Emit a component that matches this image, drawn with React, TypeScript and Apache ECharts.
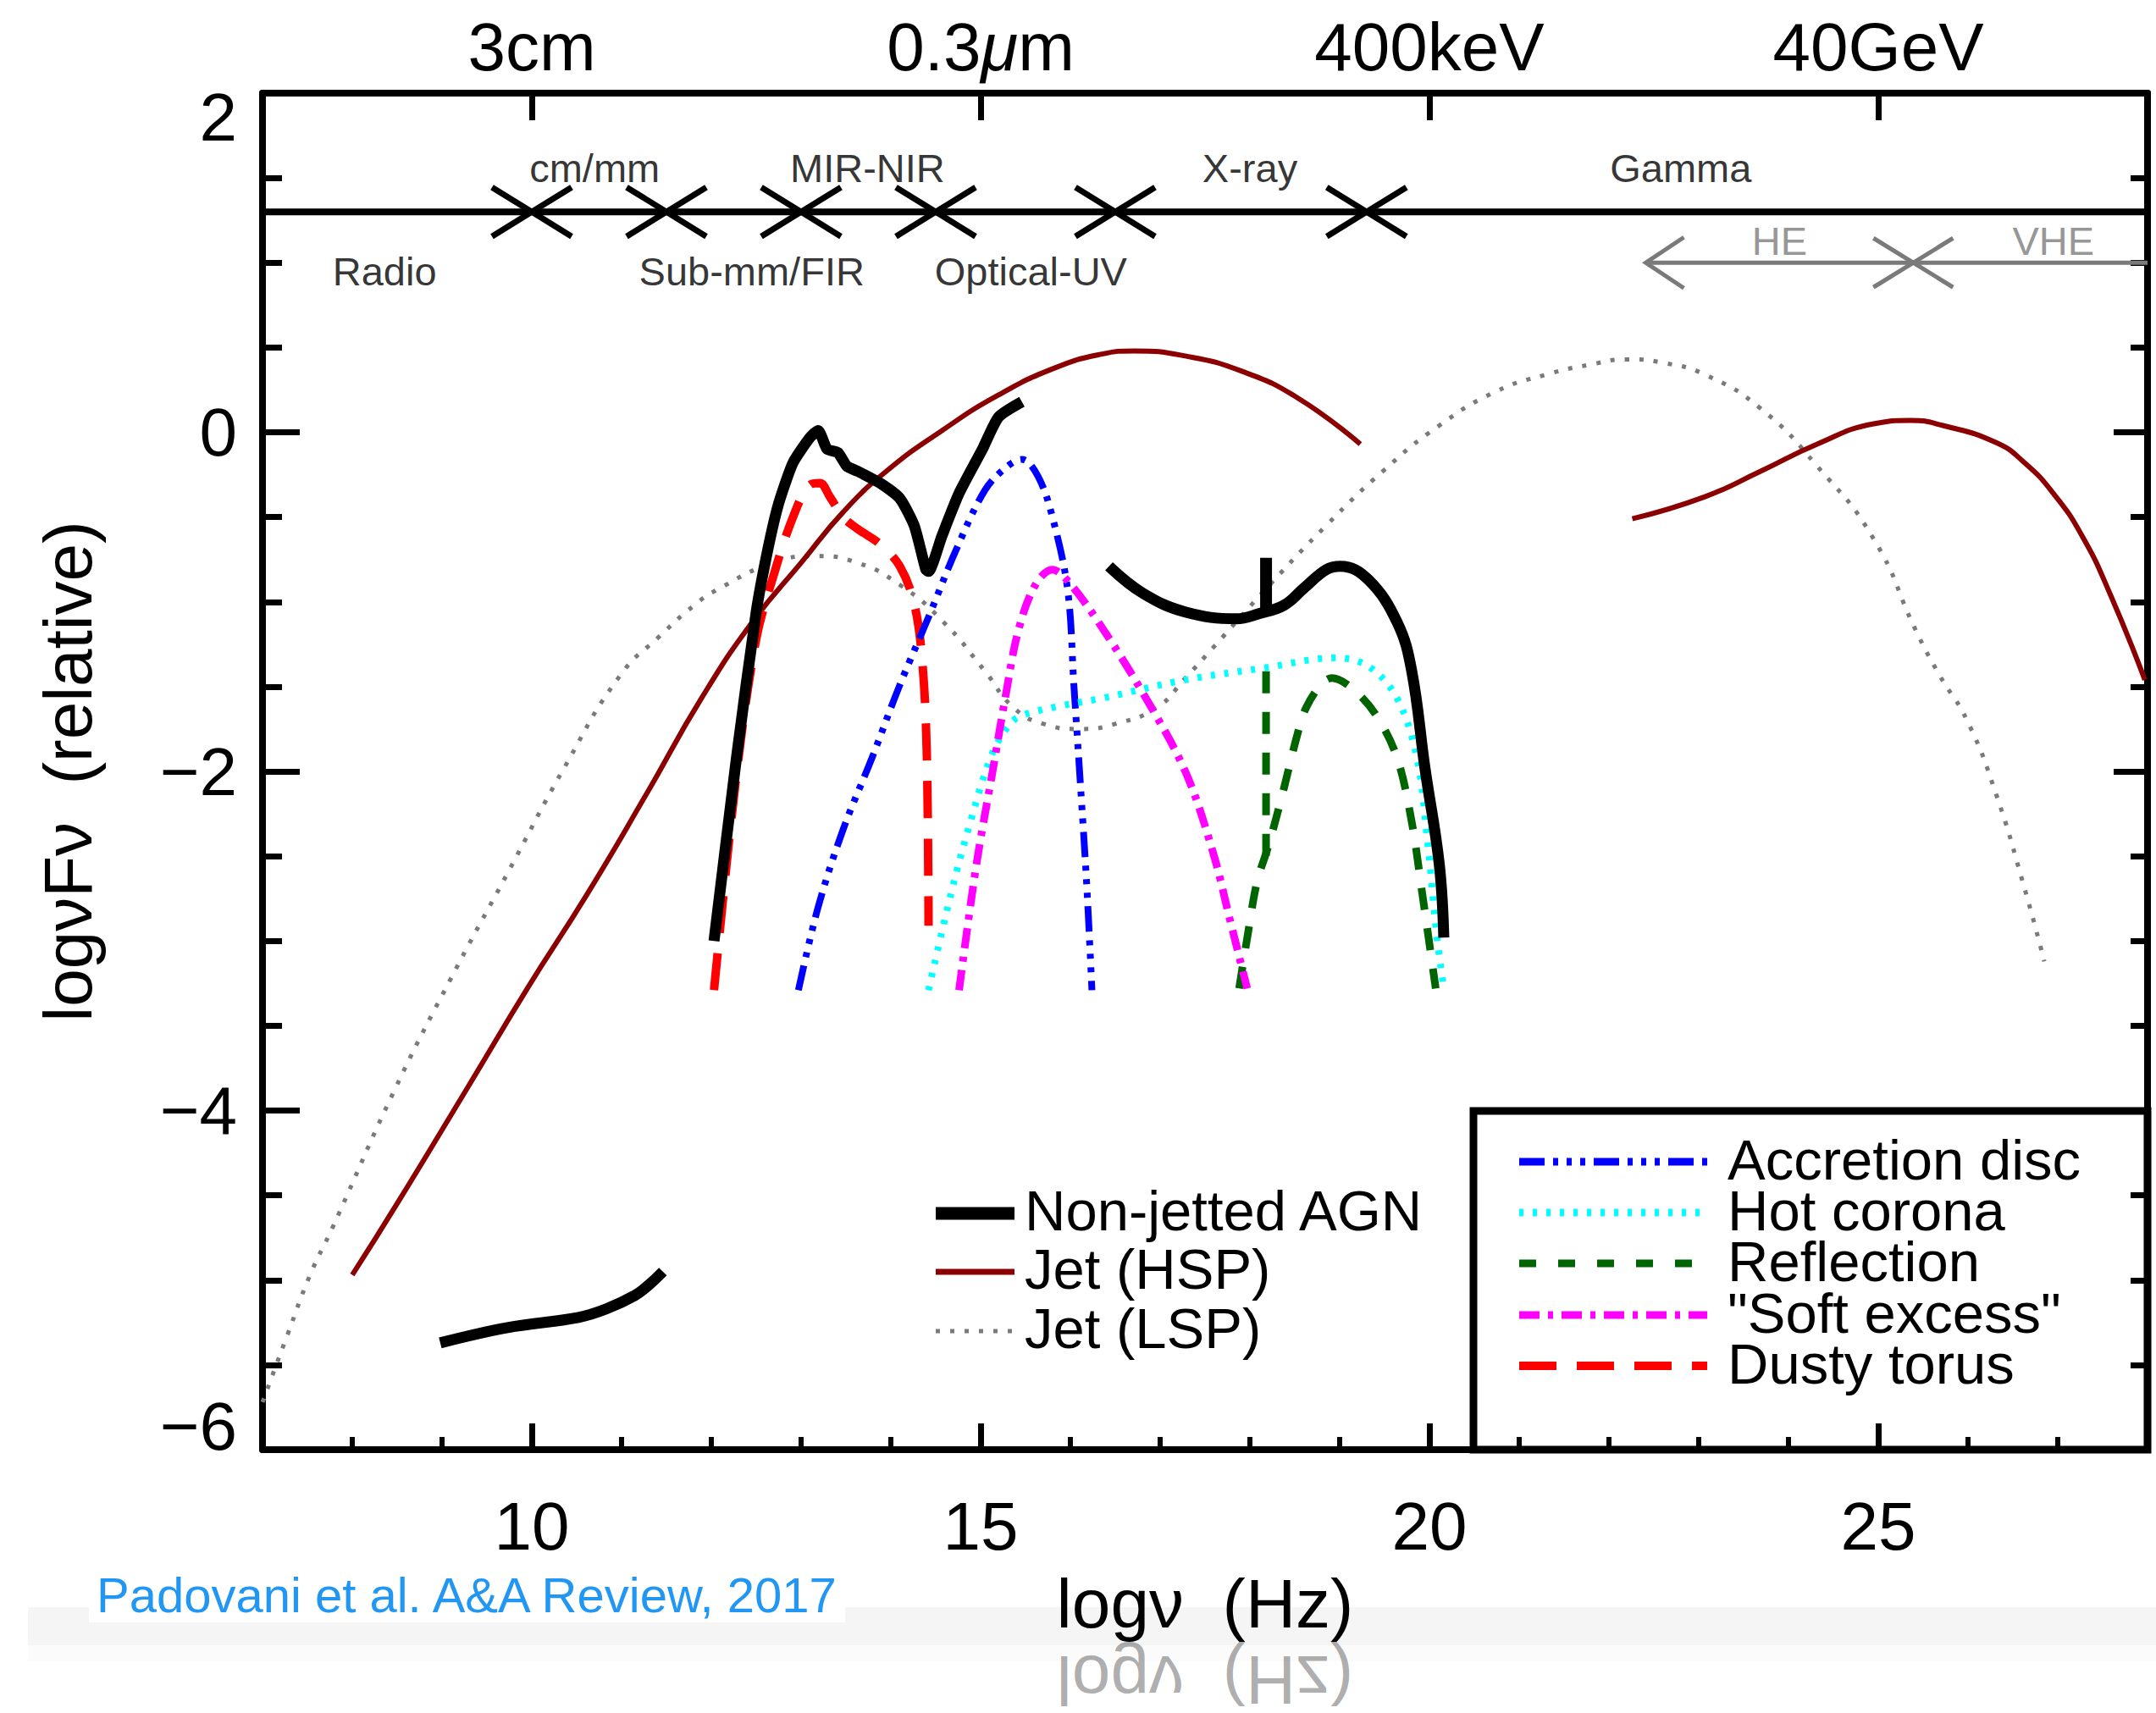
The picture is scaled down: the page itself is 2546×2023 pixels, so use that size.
import React, { useEffect, useRef } from 'react';
import * as echarts from 'echarts';

const FONT = '"Liberation Sans", Arial, Helvetica, sans-serif';

// ---------------- data (log nu [Hz], log nuFnu) ----------------
const nonJettedRadio: number[][] = [
  [8.98, -5.37], [9.73, -5.28], [10.52, -5.22], [10.83, -5.17], [11.15, -5.09], [11.3, -5.03], [11.46, -4.95],
];
const nonJettedIR: number[][] = [
  [12.03, -3.0], [12.28, -1.92], [12.5, -1.06], [12.63, -0.69], [12.75, -0.42], [12.91, -0.18], [13.1, -0.03],
  [13.19, 0.01], [13.29, -0.1], [13.41, -0.12], [13.51, -0.2], [13.63, -0.23], [13.88, -0.3], [14.1, -0.39],
  [14.26, -0.55], [14.39, -0.81], [14.42, -0.82], [14.57, -0.61], [14.76, -0.36], [15.02, -0.1], [15.2, 0.09],
  [15.46, 0.18],
];
const nonJettedXray: number[][] = [
  [16.43, -0.79], [16.81, -0.95], [17.28, -1.06], [17.85, -1.1], [18.1, -1.07], [18.38, -1.02], [18.6, -0.92],
  [18.85, -0.81], [19.01, -0.79], [19.32, -0.87], [19.64, -1.12], [19.8, -1.4], [19.95, -1.98], [20.11, -2.55],
  [20.16, -2.98],
];
const nonJettedFeSpike: number[][] = [[18.18, -1.07], [18.18, -0.74]];

const hspLow: number[][] = [
  [8.0, -4.97], [8.51, -4.54], [9.29, -3.86], [9.95, -3.28], [10.61, -2.73], [11.27, -2.14], [11.9, -1.56],
  [12.47, -1.11], [13.0, -0.77], [13.47, -0.47], [13.95, -0.23], [14.57, 0.01], [15.2, 0.22], [15.83, 0.38],
  [16.34, 0.46], [16.71, 0.48], [17.28, 0.45], [17.91, 0.36], [18.54, 0.2], [19.23, -0.07],
];
const hspHigh: number[][] = [
  [22.26, -0.51], [23.07, -0.38], [23.69, -0.23], [24.32, -0.07], [24.95, 0.05], [25.36, 0.07], [25.72, 0.04],
  [26.31, -0.06], [26.63, -0.18], [26.95, -0.36], [27.27, -0.61], [27.58, -0.95], [27.97, -1.46],
];
const lsp: number[][] = [
  [7.0, -5.72], [7.28, -5.32], [7.53, -4.97], [7.78, -4.69], [8.47, -3.88], [9.1, -3.22], [9.73, -2.6],
  [10.36, -1.98], [10.99, -1.43], [11.43, -1.2], [11.81, -1.02], [12.06, -0.93], [12.69, -0.77], [13.16, -0.73],
  [13.63, -0.77], [14.1, -0.9], [14.57, -1.11], [15.05, -1.41], [15.36, -1.62], [15.7, -1.72], [16.1, -1.75],
  [16.5, -1.72], [16.97, -1.62], [17.28, -1.45], [17.59, -1.27], [18.22, -0.9], [18.85, -0.55], [19.48, -0.23],
  [20.11, 0.04], [20.74, 0.24], [21.3, 0.34], [21.8, 0.4], [22.2, 0.43], [22.6, 0.41], [23.07, 0.34],
  [23.69, 0.14], [24.32, -0.2], [24.95, -0.63], [25.42, -1.17], [25.68, -1.43], [25.99, -1.7], [26.31, -2.13],
  [26.63, -2.69], [26.85, -3.12],
];
const accretionDisc: number[][] = [
  [12.97, -3.29], [13.19, -2.8], [13.47, -2.34], [13.79, -1.92], [14.1, -1.49], [14.42, -1.09], [14.73, -0.69],
  [15.05, -0.34], [15.3, -0.2], [15.46, -0.16], [15.64, -0.26], [15.8, -0.5], [15.97, -0.93], [16.04, -1.5],
  [16.1, -1.98], [16.18, -2.65], [16.24, -3.29],
];
const hotCorona: number[][] = [
  [14.42, -3.29], [14.67, -2.72], [14.89, -2.29], [15.11, -1.92], [15.27, -1.76], [15.42, -1.68], [15.83, -1.62],
  [16.34, -1.57], [17.28, -1.46], [18.16, -1.39], [18.95, -1.33], [19.32, -1.38], [19.64, -1.57], [19.86, -1.92],
  [19.98, -2.42], [20.08, -2.96], [20.16, -3.28],
];
const reflection: number[][] = [
  [17.88, -3.28], [17.98, -2.95], [18.08, -2.65], [18.2, -2.45], [18.35, -2.16], [18.54, -1.76], [18.63, -1.62],
  [18.79, -1.49], [18.91, -1.45], [19.16, -1.52], [19.42, -1.68], [19.64, -1.92], [19.8, -2.29], [19.92, -2.72],
  [20.07, -3.28],
];
const reflectionFeLine: number[][] = [[18.18, -1.41], [18.18, -2.55]];
const softExcess: number[][] = [
  [14.76, -3.29], [14.95, -2.56], [15.14, -1.98], [15.27, -1.58], [15.42, -1.17], [15.61, -0.9], [15.8, -0.81],
  [15.96, -0.87], [16.3, -1.11], [16.81, -1.54], [17.28, -2.0], [17.59, -2.48], [17.78, -2.88], [17.97, -3.28],
];
const dustyTorus: number[][] = [
  [12.03, -3.29], [12.28, -2.02], [12.5, -1.22], [12.69, -0.85], [12.91, -0.5], [13.1, -0.31], [13.21, -0.3],
  [13.32, -0.38], [13.47, -0.5], [13.63, -0.57], [13.88, -0.66], [14.1, -0.79], [14.26, -1.01], [14.35, -1.35],
  [14.4, -1.89], [14.42, -2.91],
];

// band annotations
const bandLineY = 1.3;
const bandBoundaries = [10, 11.5, 13, 14.5, 16.5, 19.3];
const bandNames = ['cm/mm', 'MIR-NIR', 'X-ray', 'Gamma', 'Radio', 'Sub-mm/FIR', 'Optical-UV'];
const bandNameX = [10.7, 13.74, 18.0, 22.8, 8.36, 12.45, 15.56];
const bandNameY = [1.56, 1.56, 1.56, 1.56, 0.95, 0.95, 0.95];
const gammaLineY = 1.0;
const gammaStart = 22.41;
const gammaBoundary = 25.39;
const gammaNames = ['HE', 'VHE'];
const gammaNameX = [23.9, 26.95];
const gammaNameY = [1.13, 1.13];

// axes
const xMajorTicks = [10, 15, 20, 25];
const xMinorTicks = [8, 9, 11, 12, 13, 14, 16, 17, 18, 19, 21, 22, 23, 24, 26, 27];
const topTickLabels = ['3cm', '0.3{i|\u03bc}m', '400keV', '40GeV'];

const legendLeft = ['Non-jetted AGN', 'Jet (HSP)', 'Jet (LSP)'];
const legendRight = ['Accretion disc', 'Hot corona', 'Reflection', '"Soft excess"', 'Dusty torus'];

// ---------------- styles ----------------
const C_BLACK = '#000000';
const C_HSP = '#8b0000';
const C_LSP = '#7a7a7a';
const C_DISC = '#0000ff';
const C_CORONA = '#00ffff';
const C_REFL = '#006400';
const C_SOFT = '#ff00ff';
const C_TORUS = '#ff0000';
const C_GRAY = '#7a7a7a';

const DASH_LSP = [5, 12];
const DASH_DISC = [30, 10, 6, 10, 6, 10, 6, 10];
const DASH_CORONA = [5, 11];
const DASH_REFL = [26, 22];
const DASH_SOFT = [24, 10, 6, 10];
const DASH_TORUS = [44, 24];

function lineSeries(name: string, data: number[][], color: string, width: number, dash: any, smooth: number, z = 3) {
  return {
    type: 'line',
    name,
    data,
    showSymbol: false,
    symbol: 'none',
    smooth,
    silent: true,
    z,
    lineStyle: { color, width, type: dash, cap: 'butt', join: 'round' },
  };
}

function crossRender(color: string, w: number) {
  return (params: any, api: any) => {
    const p = api.coord([api.value(0), api.value(1)]);
    return {
      type: 'group',
      children: [
        { type: 'line', shape: { x1: p[0] - 47, y1: p[1] - 29, x2: p[0] + 47, y2: p[1] + 29 }, style: { stroke: color, lineWidth: w } },
        { type: 'line', shape: { x1: p[0] - 47, y1: p[1] + 29, x2: p[0] + 47, y2: p[1] - 29 }, style: { stroke: color, lineWidth: w } },
      ],
    };
  };
}

function buildOption() {
  const yLabel = (v: number) => (v < 0 ? '\u2212' + Math.abs(v) : String(v));

  const series: any[] = [
    lineSeries('Jet (LSP)', lsp, C_LSP, 5, DASH_LSP, 0.5, 2),
    lineSeries('Jet (HSP)', hspLow, C_HSP, 6, 'solid', 0.5, 3),
    lineSeries('Jet (HSP) high', hspHigh, C_HSP, 6, 'solid', 0.5, 3),
    lineSeries('Dusty torus', dustyTorus, C_TORUS, 10, DASH_TORUS, 0.35, 4),
    lineSeries('Accretion disc', accretionDisc, C_DISC, 8, DASH_DISC, 0.35, 4),
    lineSeries('Hot corona', hotCorona, C_CORONA, 8, DASH_CORONA, 0.35, 4),
    lineSeries('Reflection', reflection, C_REFL, 9, DASH_REFL, 0.35, 4),
    lineSeries('Reflection Fe', reflectionFeLine, C_REFL, 9, DASH_REFL, 0, 4),
    lineSeries('"Soft excess"', softExcess, C_SOFT, 9, DASH_SOFT, 0.35, 4),
    lineSeries('Non-jetted AGN', nonJettedIR, C_BLACK, 13, 'solid', 0.2, 5),
    lineSeries('Non-jetted AGN radio', nonJettedRadio, C_BLACK, 13, 'solid', 0.4, 5),
    lineSeries('Non-jetted AGN X', nonJettedXray, C_BLACK, 13, 'solid', 0.4, 5),
    lineSeries('Non-jetted AGN Fe', nonJettedFeSpike, C_BLACK, 14, 'solid', 0, 5),
    // band annotations
    lineSeries('band line', [[7, bandLineY], [28, bandLineY]], C_BLACK, 8, 'solid', 0, 6),
    lineSeries('gamma line', [[gammaStart, gammaLineY], [28, gammaLineY]], C_GRAY, 5, 'solid', 0, 6),
    {
      type: 'custom', name: 'band crosses', silent: true, z: 6,
      data: bandBoundaries.map((x) => [x, bandLineY]),
      renderItem: crossRender(C_BLACK, 7),
    },
    {
      type: 'custom', name: 'gamma cross', silent: true, z: 6,
      data: [[gammaBoundary, gammaLineY]],
      renderItem: crossRender(C_GRAY, 5),
    },
    {
      type: 'custom', name: 'gamma arrow', silent: true, z: 6,
      data: [[gammaStart, gammaLineY]],
      renderItem: (params: any, api: any) => {
        const p = api.coord([api.value(0), api.value(1)]);
        return {
          type: 'polyline',
          shape: { points: [[p[0] + 45, p[1] - 30], [p[0], p[1]], [p[0] + 45, p[1] + 30]] },
          style: { stroke: C_GRAY, lineWidth: 5, fill: null },
        };
      },
    },
    {
      type: 'scatter', name: 'band names', silent: true, z: 6,
      symbolSize: 1, itemStyle: { color: 'rgba(0,0,0,0)' },
      data: bandNames.map((n, i) => ({ name: n, value: [bandNameX[i], bandNameY[i]] })),
      label: { show: true, position: 'inside', formatter: '{b}', fontSize: 47, color: C_BLACK, fontFamily: FONT },
    },
    {
      type: 'scatter', name: 'gamma names', silent: true, z: 6,
      symbolSize: 1, itemStyle: { color: 'rgba(0,0,0,0)' },
      data: gammaNames.map((n, i) => ({ name: n, value: [gammaNameX[i], gammaNameY[i]] })),
      label: { show: true, position: 'inside', formatter: '{b}', fontSize: 47, color: C_GRAY, fontFamily: FONT },
    },
  ];

  // ---- legends drawn as graphic ----
  const leftStyles = [
    { color: C_BLACK, w: 15, dash: null },
    { color: C_HSP, w: 7, dash: null },
    { color: C_LSP, w: 5, dash: DASH_LSP },
  ];
  const rightStyles = [
    { color: C_DISC, w: 9, dash: DASH_DISC },
    { color: C_CORONA, w: 9, dash: DASH_CORONA },
    { color: C_REFL, w: 9, dash: [20, 26] },
    { color: C_SOFT, w: 9, dash: DASH_SOFT },
    { color: C_TORUS, w: 10, dash: DASH_TORUS },
  ];
  const graphics: any[] = [];
  // bottom band + reflection artefacts of the slide
  graphics.push({ type: 'rect', z: -10, shape: { x: 33, y: 1898, width: 2513, height: 45 }, style: { fill: '#f5f5f5' } });
  graphics.push({ type: 'rect', z: -10, shape: { x: 33, y: 1943, width: 2513, height: 19 }, style: { fill: '#fbfbfb' } });
  graphics.push({ type: 'rect', z: -9, shape: { x: 105, y: 1848, width: 893, height: 68 }, style: { fill: '#ffffff' } });
  graphics.push({
    type: 'text', z: 10, x: 114, y: 1883,
    style: { text: 'Padovani et al. A&A Review, 2017', fontSize: 58, fontFamily: FONT, fill: '#2196f3', align: 'left', verticalAlign: 'middle' },
  });
  graphics.push({
    type: 'text', z: -8, x: 1423, y: 1984, scaleY: -1,
    style: { text: 'log\u03bd  (Hz)', fontSize: 82, fontFamily: FONT, fill: 'rgba(0,0,0,0.33)', align: 'center', verticalAlign: 'middle' },
  });
  // legend box
  graphics.push({ type: 'rect', z: 8, shape: { x: 1740, y: 1312, width: 796, height: 400 }, style: { fill: 'rgba(0,0,0,0)', stroke: C_BLACK, lineWidth: 9 } });
  const leftY = [1433, 1502, 1572];
  legendLeft.forEach((t, i) => {
    const s = leftStyles[i];
    graphics.push({ type: 'line', z: 9, shape: { x1: 1105, y1: leftY[i], x2: 1198, y2: leftY[i] }, style: { stroke: s.color, lineWidth: s.w, lineDash: s.dash } });
    graphics.push({ type: 'text', z: 9, x: 1210, y: leftY[i] - 4, style: { text: t, fontSize: 67, fontFamily: FONT, fill: C_BLACK, align: 'left', verticalAlign: 'middle' } });
  });
  const rightY = [1372, 1432, 1492, 1553, 1613];
  legendRight.forEach((t, i) => {
    const s = rightStyles[i];
    graphics.push({ type: 'line', z: 9, shape: { x1: 1794, y1: rightY[i], x2: 2016, y2: rightY[i] }, style: { stroke: s.color, lineWidth: s.w, lineDash: s.dash } });
    graphics.push({ type: 'text', z: 9, x: 2040, y: rightY[i] - 3, style: { text: t, fontSize: 67, fontFamily: FONT, fill: C_BLACK, align: 'left', verticalAlign: 'middle' } });
  });

  const axisLineStyle = { show: true, onZero: false, lineStyle: { color: C_BLACK, width: 8 } };

  return {
    animation: false,
    backgroundColor: '#ffffff',
    textStyle: { fontFamily: FONT },
    grid: { left: 310, top: 110, width: 2226, height: 1602, containLabel: false },
    xAxis: [
      {
        type: 'value', min: 7, max: 28, position: 'bottom',
        axisLine: axisLineStyle,
        axisTick: { show: true, inside: true, length: 31, customValues: xMajorTicks, lineStyle: { color: C_BLACK, width: 7 } },
        axisLabel: { show: true, customValues: xMajorTicks, fontSize: 80, color: C_BLACK, fontFamily: FONT, margin: 50 },
        splitLine: { show: false },
        name: 'log\u03bd  (Hz)', nameLocation: 'middle', nameGap: 140,
        nameTextStyle: { fontSize: 82, color: C_BLACK, fontFamily: FONT },
      },
      {
        type: 'value', min: 7, max: 28, position: 'bottom',
        axisLine: { show: true, onZero: false, lineStyle: { color: 'rgba(0,0,0,0)', width: 0 } },
        axisTick: { show: true, inside: true, length: 15, customValues: xMinorTicks, lineStyle: { color: C_BLACK, width: 6 } },
        axisLabel: { show: false },
        splitLine: { show: false },
      },
      {
        type: 'value', min: 7, max: 28, position: 'top',
        axisLine: axisLineStyle,
        axisTick: { show: true, inside: true, length: 32, customValues: xMajorTicks, lineStyle: { color: C_BLACK, width: 7 } },
        axisLabel: {
          show: true, customValues: xMajorTicks, fontSize: 80, color: C_BLACK, fontFamily: FONT, margin: 15,
          formatter: (v: number) => topTickLabels[xMajorTicks.indexOf(v)] ?? '',
          rich: { i: { fontSize: 80, fontStyle: 'italic', fontFamily: FONT, color: C_BLACK } },
        },
        splitLine: { show: false },
      },
    ],
    yAxis: [
      {
        type: 'value', min: -6, max: 2, interval: 2, position: 'left',
        axisLine: axisLineStyle,
        axisTick: { show: true, inside: true, length: 44, lineStyle: { color: C_BLACK, width: 7 } },
        minorTick: { show: true, splitNumber: 4, length: 23, lineStyle: { color: C_BLACK, width: 7 } },
        axisLabel: {
          show: true, fontSize: 80, lineHeight: 56, color: C_BLACK, fontFamily: FONT, margin: 30, formatter: yLabel,
          verticalAlignMinLabel: 'bottom', verticalAlignMaxLabel: 'top',
        },
        splitLine: { show: false }, minorSplitLine: { show: false },
        name: 'log\u03bdF\u03bd  (relative)', nameLocation: 'middle', nameGap: 190,
        nameTextStyle: { fontSize: 80, color: C_BLACK, fontFamily: FONT },
      },
      {
        type: 'value', min: -6, max: 2, interval: 2, position: 'right',
        axisLine: axisLineStyle,
        axisTick: { show: true, inside: true, length: 40, lineStyle: { color: C_BLACK, width: 7 } },
        minorTick: { show: true, splitNumber: 4, length: 20, lineStyle: { color: C_BLACK, width: 7 } },
        axisLabel: { show: false },
        splitLine: { show: false }, minorSplitLine: { show: false },
      },
    ],
    series,
    graphic: { elements: graphics },
  };
}

export default function App() {
  const ref = useRef<HTMLDivElement>(null);
  useEffect(() => {
    if (!ref.current) return;
    const chart = echarts.init(ref.current, null, { renderer: 'svg', width: 2546, height: 2023 });
    chart.setOption(buildOption() as any);
    return () => chart.dispose();
  }, []);
  return (
    <div
      ref={ref}
      style={{ position: 'absolute', left: 0, top: 0, width: 2546, height: 2023, background: '#ffffff' }}
    />
  );
}
